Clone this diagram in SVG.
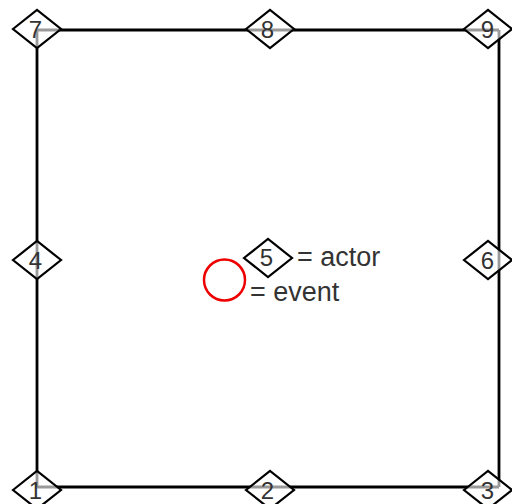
<svg xmlns="http://www.w3.org/2000/svg" width="512" height="504" viewBox="0 0 512 504">
<style>
.edge{stroke:#000;stroke-width:2.8;fill:none}
.act{fill:#fff;fill-opacity:0.6;stroke:#000;stroke-width:2.2}
.lbl{font-family:"Liberation Sans",Arial,sans-serif;font-size:24px;fill:#333;text-anchor:middle}
.leg{font-family:"Liberation Sans",Arial,sans-serif;font-size:27px;fill:#333}
</style>
<defs>
<polygon id="dia" points="-24,0 0,-19 24,0 0,19"/>
</defs>
<rect width="512" height="504" fill="#fff"/>
<g id="connectors">
<line class="edge" x1="37" y1="30" x2="499" y2="30"/>
<line class="edge" x1="37" y1="30" x2="37" y2="487"/>
<line class="edge" x1="499" y1="30" x2="499" y2="487"/>
<line class="edge" x1="37" y1="487" x2="499" y2="487"/>
</g>
<g id="n7"><use href="#dia" class="act" x="37" y="29"/><text class="lbl" x="35.5" y="38">7</text></g>
<g id="n8"><use href="#dia" class="act" x="270" y="29"/><text class="lbl" x="267.5" y="38">8</text></g>
<g id="n9"><use href="#dia" class="act" x="488" y="29"/><text class="lbl" x="487.5" y="38">9</text></g>
<g id="n4"><use href="#dia" class="act" x="37" y="260"/><text class="lbl" x="35.5" y="269">4</text></g>
<g id="n5"><use href="#dia" class="act" x="268" y="258"/><text class="lbl" x="266.5" y="266">5</text></g>
<g id="n6"><use href="#dia" class="act" x="488" y="260"/><text class="lbl" x="487.5" y="269">6</text></g>
<g id="n1"><use href="#dia" class="act" x="37" y="490"/><text class="lbl" x="35.5" y="499">1</text></g>
<g id="n2"><use href="#dia" class="act" x="270" y="490"/><text class="lbl" x="267.5" y="499">2</text></g>
<g id="n3"><use href="#dia" class="act" x="488" y="490"/><text class="lbl" x="487.5" y="499">3</text></g>
<g id="legend">
<text class="leg" x="297" y="266">= actor</text>
<circle cx="224.5" cy="280" r="20.5" fill="none" stroke="#e00" stroke-width="2.5"/>
<text class="leg" x="250" y="301">= event</text>
</g>
</svg>
